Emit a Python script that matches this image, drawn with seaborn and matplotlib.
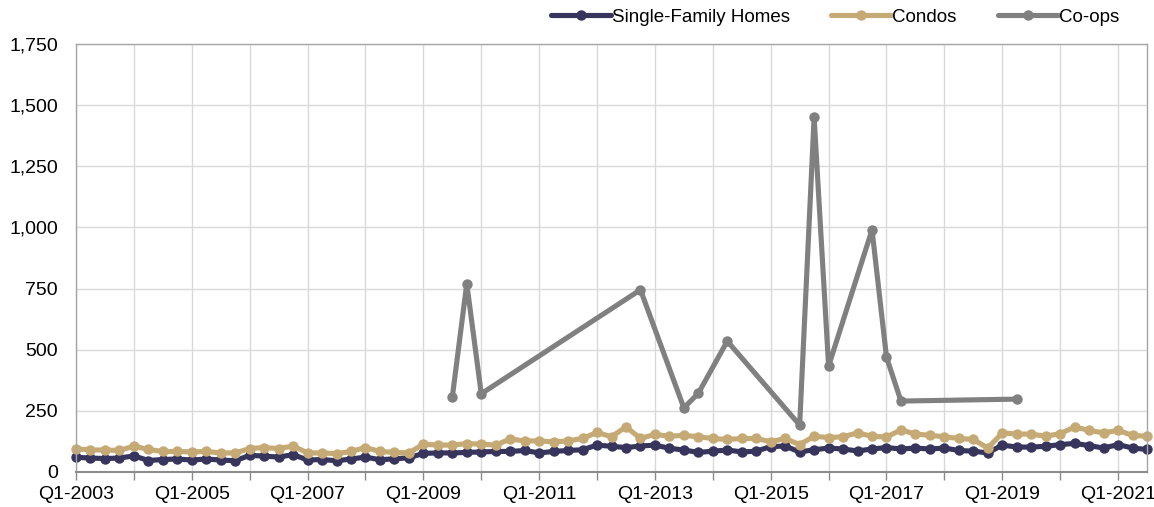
import numpy as np
import pandas as pd
import seaborn as sns
import matplotlib
matplotlib.use("Agg")
import matplotlib.pyplot as plt
from matplotlib.ticker import FuncFormatter

# quarterly categories Q1-2003 .. Q3-2021
quarters = ["Q%d-%d" % (q, y) for y in range(2003, 2022) for q in range(1, 5)][:75]

single_family = [60, 57, 55, 57, 66, 47, 51, 53, 49, 53, 49, 46, 68, 65, 61, 71, 49, 51, 46,
                 53, 61, 50, 54, 58, 76, 78, 78, 80, 82, 84, 84, 88, 78, 84, 88, 91, 110, 105,
                 100, 106, 110, 97, 90, 80, 85, 90, 82, 85, 104, 106, 82, 91, 98, 94, 86, 94,
                 100, 94, 98, 94, 98, 88, 85, 78, 110, 102, 102, 105, 112, 117, 108, 98, 112,
                 98, 92]
condos = [95, 90, 90, 88, 106, 92, 84, 84, 82, 84, 78, 78, 96, 100, 96, 106, 78, 78, 75,
          84, 100, 84, 80, 78, 114, 110, 110, 116, 114, 110, 135, 127, 127, 123, 127, 137, 162,
          144, 185, 137, 154, 146, 150, 144, 137, 133, 137, 137, 124, 137, 112, 146, 141, 144,
          160, 146, 143, 172, 155, 150, 144, 137, 133, 98, 160, 155, 155, 146, 157, 184, 170,
          160, 170, 150, 146]
# co-ops only reported for some quarters
coops = {26: 306, 27: 770, 28: 320, 39: 745, 42: 262, 43: 322, 45: 535, 50: 192,
         51: 1450, 52: 433, 55: 990, 56: 470, 57: 290, 65: 298}

names = ["Single-Family Homes", "Condos", "Co-ops"]
colors = ["#37355c", "#c6aa76", "#808080"]

rows = []
for i in range(len(quarters)):
    rows.append((i, single_family[i], names[0]))
    rows.append((i, condos[i], names[1]))
for i, v in coops.items():
    rows.append((i, v, names[2]))
df = pd.DataFrame(rows, columns=["idx", "value", "series"])

sns.set_theme(style="white")
plt.rcParams["font.family"] = ["Liberation Sans", "DejaVu Sans"]

fig = plt.figure(figsize=(11.54, 5.07), dpi=100)
ax = fig.add_axes([76 / 1154, 1 - 472 / 507, (1147 - 76) / 1154, (472 - 44) / 507])

sns.lineplot(data=df, x="idx", y="value", hue="series", hue_order=names,
             palette=colors, marker="o", markersize=7.5, markeredgewidth=0,
             linewidth=3.7, errorbar=None, ax=ax, clip_on=False)

ax.set_xlim(0, len(quarters) - 1)
ax.set_ylim(0, 1750)
ax.set_yticks(np.arange(0, 1751, 250))
ax.yaxis.set_major_formatter(FuncFormatter(lambda v, p: "{:,.0f}".format(v)))

xt = list(range(0, len(quarters), 4))
ax.set_xticks(xt)
ax.set_xticklabels([quarters[i] if i % 8 == 0 else "" for i in xt])
ax.set_xlabel("")
ax.set_ylabel("")

ax.grid(True, color="#d9d9d9", linewidth=1)
ax.set_axisbelow(True)
for s in ["top", "right", "left"]:
    ax.spines[s].set_color("#a6a6a6")
    ax.spines[s].set_linewidth(1)
ax.spines["bottom"].set_color("#8c8c8c")
ax.spines["bottom"].set_linewidth(1.5)
ax.tick_params(axis="x", direction="out", length=6, width=1, color="#8c8c8c",
               labelsize=14, labelcolor="black", pad=4, bottom=True)
ax.tick_params(axis="y", length=0, labelsize=14, labelcolor="black", pad=13)

handles, labels = ax.get_legend_handles_labels()
ax.get_legend().remove()
leg = fig.legend(handles, labels, loc="center", bbox_to_anchor=(0.7236, 0.966), ncol=3,
                 frameon=False, fontsize=13.5, handlelength=3.2, handletextpad=0.05,
                 columnspacing=2.2)
for t in leg.get_texts():
    t.set_color("black")

fig.savefig("out.png", dpi=100)
